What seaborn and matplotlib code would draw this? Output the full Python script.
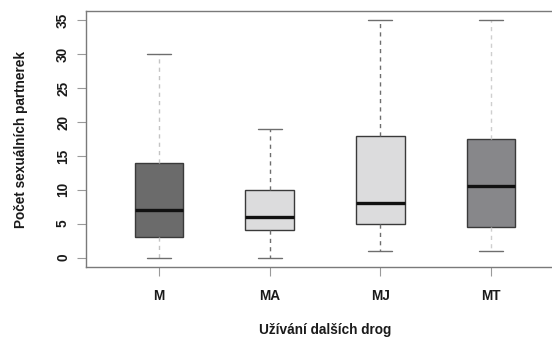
import matplotlib
matplotlib.use("Agg")
import matplotlib.pyplot as plt
import pandas as pd
import seaborn as sns

# Five-number summaries (min, Q1, median, Q3, max)
groups = ["M", "MA", "MJ", "MT"]
summary_m = [0, 3, 7, 14, 30]
summary_ma = [0, 4, 6, 10, 19]
summary_mj = [1, 5, 8, 18, 35]
summary_mt = [1, 4.5, 10.5, 17.5, 35]
box_colors = ["#6b6b6b", "#dcdcdd", "#dcdcdd", "#86878a"]
whisker_colors = ["#c4c4c4", "#6e6e6e", "#6e6e6e", "#cfcfcf"]
y_ticks = [0, 5, 10, 15, 20, 25, 30, 35]

df = pd.DataFrame({
    "group": [g for g, s in zip(groups, [summary_m, summary_ma, summary_mj, summary_mt]) for _ in s],
    "value": summary_m + summary_ma + summary_mj + summary_mt,
})

sns.set_style("white")
plt.rcParams["font.family"] = ["Liberation Sans", "DejaVu Sans"]

fig = plt.figure(figsize=(5.52, 3.39), dpi=100)
ax = fig.add_axes([86 / 552, 1 - 267 / 339, (564 - 86) / 552, 256 / 339])

sns.boxplot(data=df, x="group", y="value", hue="group", order=groups,
            palette=box_colors, legend=False, whis=(0, 100), width=0.44,
            linecolor="#3a3a3a", linewidth=1.0,
            medianprops={"color": "#111111", "linewidth": 2.4},
            whiskerprops={"linestyle": (0, (3, 3))},
            capprops={"color": "#6e6e6e"},
            ax=ax)

# whisker shades differ between boxes in the original
for cont, wc in zip(ax.containers, whisker_colors):
    for w in cont.whiskers:
        w.set_color(wc)

ax.set_xlim(-0.66, 3.66)
ax.set_ylim(-1.4, 36.4)
ax.set_yticks(y_ticks)
ax.set_yticklabels([str(t) for t in y_ticks], rotation=90, va="center")

for sp in ax.spines.values():
    sp.set_color("#7a7a7a")
    sp.set_linewidth(1.0)

ax.tick_params(axis="both", direction="out", length=6.5, width=0.8,
               color="#9a9a9a", labelsize=9.8, labelcolor="#1a1a1a",
               bottom=True, left=True)
for lab in ax.get_xticklabels() + ax.get_yticklabels():
    lab.set_fontweight("bold")
ax.tick_params(axis="y", pad=5)
ax.tick_params(axis="x", pad=9)

ax.set_xlabel("Užívání dalších drog", fontsize=9.8, fontweight="bold",
              color="#1a1a1a", labelpad=15)
ax.set_ylabel("Počet sexuálních partnerek", fontsize=9.8, fontweight="bold",
              color="#1a1a1a", labelpad=20)

fig.savefig("out.png", dpi=100)
